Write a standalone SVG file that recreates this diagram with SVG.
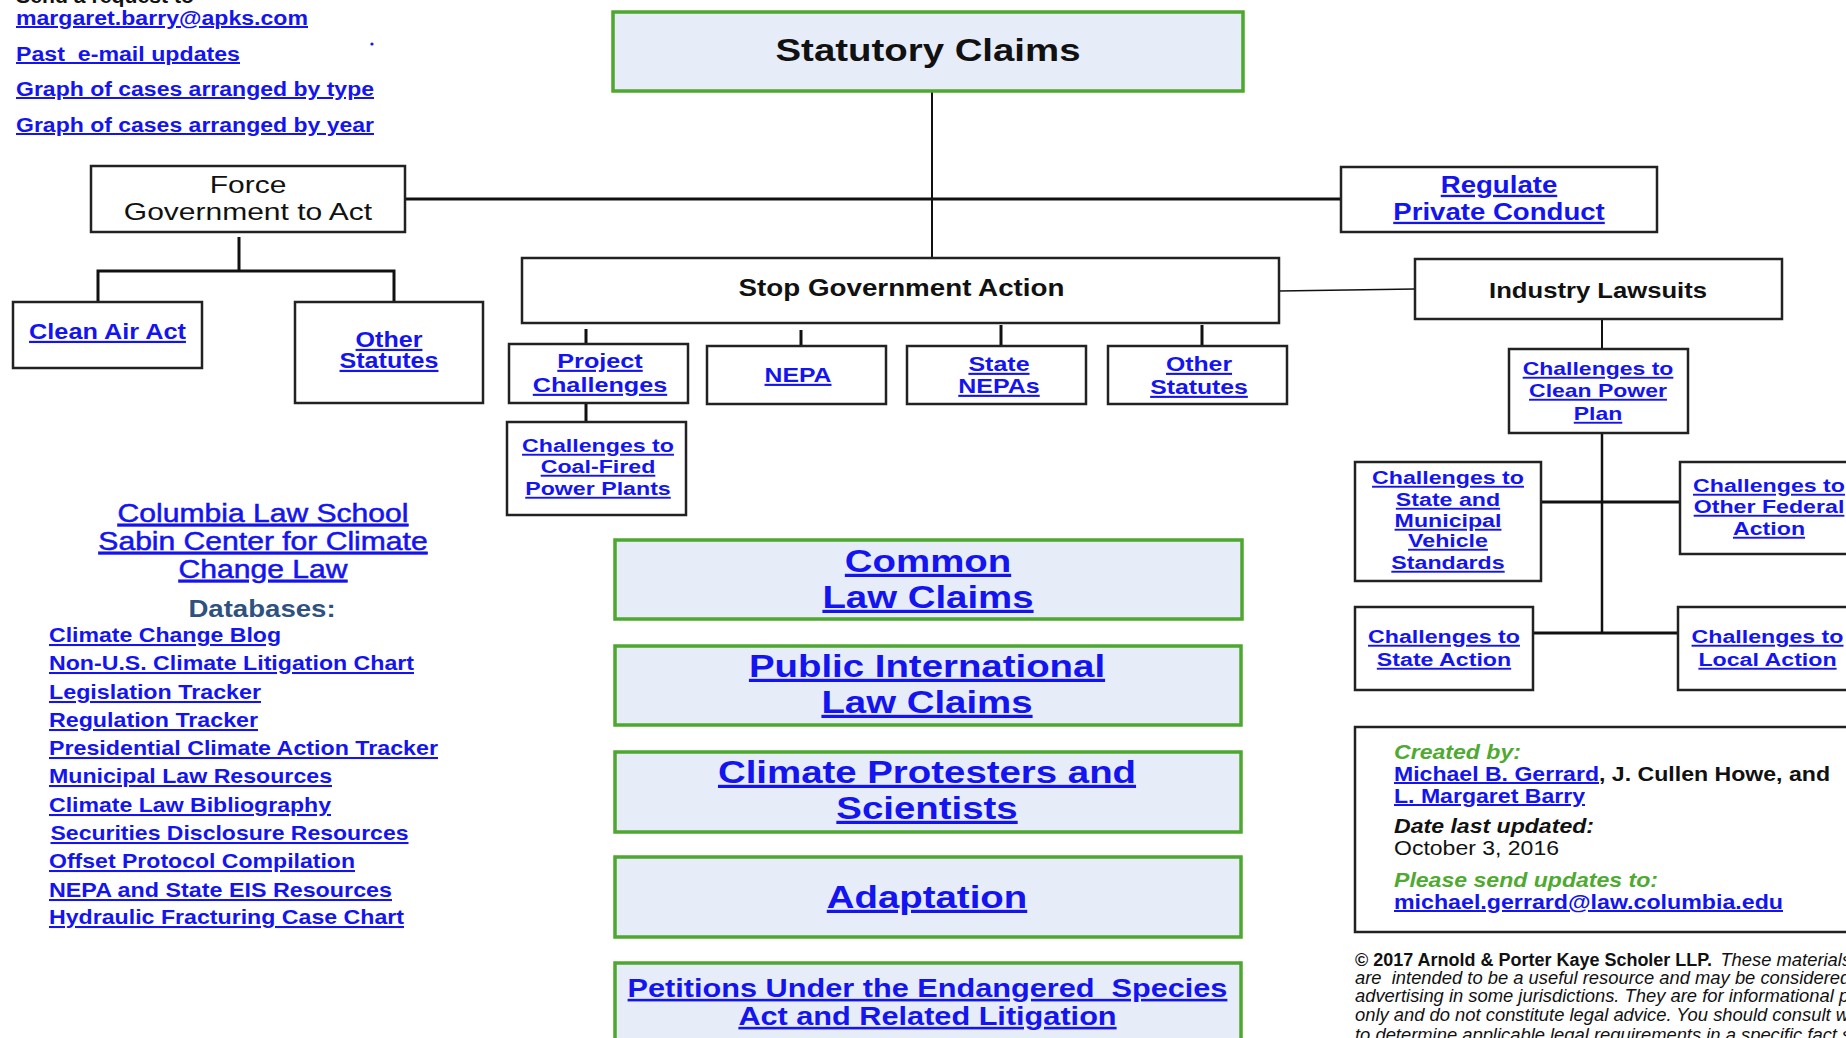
<svg xmlns="http://www.w3.org/2000/svg" width="1846" height="1038" viewBox="0 0 1846 1038">
<style>
text{font-family:"Liberation Sans",Arial,sans-serif}
.box{fill:#fff;stroke:#222;stroke-width:2.5}
.gbox{fill:#e6edf9;stroke:#4ea72e;stroke-width:3.5}
.lnk{fill:#1414f0;font-weight:bold;text-decoration:underline}
.lnkr{fill:#1414f0;stroke:#1414f0;stroke-width:0.5;text-decoration:underline}
.blk{fill:#111}
.bb{fill:#111;font-weight:bold}
.c{text-anchor:middle}
.grn{fill:#50aa32;font-weight:bold;font-style:italic}
.cp{fill:#111;font-size:17.5px;font-style:italic}
.conn path{fill:none;stroke:#111}
</style>
<rect width="1846" height="1038" fill="#fff"/>

<g id="connectors" class="conn">
<path d="M932 91V258" stroke-width="2"/>
<path d="M405 199H1341" stroke-width="3"/>
<path d="M239 237V271M98 302V271H394V302" stroke-width="3"/>
<path d="M586 329V344M801 330V346M1001 325V346M1202 325V346M586 403V422" stroke-width="3"/>
<path d="M1279 291L1415 289" stroke-width="1.5"/>
<path d="M1602 319V349" stroke-width="2"/>
<path d="M1602 433V633" stroke-width="2.5"/>
<path d="M1541 502H1680M1533 633H1678" stroke-width="3"/>
</g>

<g id="top-links">
<text class="bb" x="16" y="3" font-size="20" textLength="178" lengthAdjust="spacingAndGlyphs">Send a request to</text>
<text class="lnk" x="16" y="25" font-size="20" textLength="292" lengthAdjust="spacingAndGlyphs">margaret.barry@apks.com</text>
<text class="lnk" x="16" y="61" font-size="20" textLength="224" lengthAdjust="spacingAndGlyphs">Past&#160; e-mail updates</text>
<text class="lnk" x="16" y="96" font-size="20" textLength="358" lengthAdjust="spacingAndGlyphs">Graph of cases arranged by type</text>
<text class="lnk" x="16" y="132" font-size="20" textLength="358" lengthAdjust="spacingAndGlyphs">Graph of cases arranged by year</text>
<circle cx="372" cy="44" r="1.6" fill="#1414f0"/>
</g>

<g id="statutory-claims">
<rect class="gbox" x="613" y="12" width="630" height="79"/>
<g transform="translate(928 0) scale(1.2 1)"><text class="bb c" x="0" y="61" font-size="32">Statutory Claims</text></g>
</g>

<g id="force-government">
<rect class="box" x="91" y="166" width="314" height="66"/>
<g transform="translate(248 0) scale(1.25 1)" class="blk" font-size="24">
<text class="c" x="0" y="193">Force</text>
<text class="c" x="0" y="220">Government to Act</text>
</g>
</g>

<g id="clean-air-act">
<rect class="box" x="13" y="302" width="189" height="66"/>
<g transform="translate(107.5 0) scale(1.15 1)"><text class="lnk c" x="0" y="339" font-size="22">Clean Air Act</text></g>
</g>

<g id="other-statutes-left">
<rect class="box" x="295" y="302" width="188" height="101"/>
<g transform="translate(389 0) scale(1.14 1)" font-size="22">
<text class="lnk c" x="0" y="347">Other</text>
<text class="lnk c" x="0" y="368">Statutes</text>
</g>
</g>

<g id="stop-government">
<rect class="box" x="522" y="258" width="757" height="65"/>
<g transform="translate(901.5 0) scale(1.157 1)"><text class="bb c" x="0" y="296" font-size="24">Stop Government Action</text></g>
</g>

<g id="project-challenges">
<rect class="box" x="509" y="344" width="179" height="59"/>
<g transform="translate(600 0) scale(1.2 1)" font-size="21">
<text class="lnk c" x="0" y="368">Project</text>
<text class="lnk c" x="0" y="392">Challenges</text>
</g>
</g>

<g id="coal-fired">
<rect class="box" x="507" y="422" width="179" height="93"/>
<g transform="translate(598 0) scale(1.22 1)" font-size="19">
<text class="lnk c" x="0" y="452">Challenges to</text>
<text class="lnk c" x="0" y="473">Coal-Fired</text>
<text class="lnk c" x="0" y="495">Power Plants</text>
</g>
</g>

<g id="nepa">
<rect class="box" x="707" y="346" width="179" height="58"/>
<g transform="translate(798 0) scale(1.18 1)"><text class="lnk c" x="0" y="382" font-size="21">NEPA</text></g>
</g>

<g id="state-nepas">
<rect class="box" x="907" y="346" width="179" height="58"/>
<g transform="translate(999 0) scale(1.19 1)" font-size="21">
<text class="lnk c" x="0" y="371">State</text>
<text class="lnk c" x="0" y="393">NEPAs</text>
</g>
</g>

<g id="other-statutes-mid">
<rect class="box" x="1108" y="346" width="179" height="58"/>
<g transform="translate(1199 0) scale(1.18 1)" font-size="21">
<text class="lnk c" x="0" y="371">Other</text>
<text class="lnk c" x="0" y="394">Statutes</text>
</g>
</g>

<g id="regulate-private">
<rect class="box" x="1341" y="167" width="316" height="65"/>
<g transform="translate(1499 0) scale(1.2 1)" font-size="23">
<text class="lnk c" x="0" y="193">Regulate</text>
<text class="lnk c" x="0" y="220">Private Conduct</text>
</g>
</g>

<g id="industry-lawsuits">
<rect class="box" x="1415" y="259" width="367" height="60"/>
<g transform="translate(1598 0) scale(1.166 1)"><text class="bb c" x="0" y="298" font-size="22">Industry Lawsuits</text></g>
</g>

<g id="clean-power-plan">
<rect class="box" x="1509" y="349" width="179" height="84"/>
<g transform="translate(1598 0) scale(1.21 1)" font-size="19">
<text class="lnk c" x="0" y="375">Challenges to</text>
<text class="lnk c" x="0" y="397">Clean Power</text>
<text class="lnk c" x="0" y="420">Plan</text>
</g>
</g>

<g id="state-municipal">
<rect class="box" x="1355" y="462" width="186" height="119"/>
<g transform="translate(1448 0) scale(1.22 1)" font-size="19">
<text class="lnk c" x="0" y="484">Challenges to</text>
<text class="lnk c" x="0" y="506">State and</text>
<text class="lnk c" x="0" y="527">Municipal</text>
<text class="lnk c" x="0" y="547">Vehicle</text>
<text class="lnk c" x="0" y="569">Standards</text>
</g>
</g>

<g id="other-federal">
<rect class="box" x="1680" y="462" width="190" height="92"/>
<g transform="translate(1769 0) scale(1.22 1)" font-size="19">
<text class="lnk c" x="0" y="492">Challenges to</text>
<text class="lnk c" x="0" y="513">Other Federal</text>
<text class="lnk c" x="0" y="535">Action</text>
</g>
</g>

<g id="state-action">
<rect class="box" x="1355" y="607" width="178" height="83"/>
<g transform="translate(1444 0) scale(1.22 1)" font-size="19">
<text class="lnk c" x="0" y="643">Challenges to</text>
<text class="lnk c" x="0" y="666">State Action</text>
</g>
</g>

<g id="local-action">
<rect class="box" x="1678" y="607" width="190" height="83"/>
<g transform="translate(1767.5 0) scale(1.22 1)" font-size="19">
<text class="lnk c" x="0" y="643">Challenges to</text>
<text class="lnk c" x="0" y="666">Local Action</text>
</g>
</g>

<g id="common-law">
<rect class="gbox" x="615" y="540" width="627" height="79"/>
<g transform="translate(928 0) scale(1.2 1)" font-size="32">
<text class="lnk c" x="0" y="572">Common</text>
<text class="lnk c" x="0" y="608">Law Claims</text>
</g>
</g>

<g id="public-international">
<rect class="gbox" x="615" y="646" width="626" height="79"/>
<g transform="translate(927 0) scale(1.2 1)" font-size="32">
<text class="lnk c" x="0" y="677">Public International</text>
<text class="lnk c" x="0" y="713">Law Claims</text>
</g>
</g>

<g id="climate-protesters">
<rect class="gbox" x="615" y="752" width="626" height="80"/>
<g transform="translate(927 0) scale(1.2 1)" font-size="32">
<text class="lnk c" x="0" y="783">Climate Protesters and</text>
<text class="lnk c" x="0" y="819">Scientists</text>
</g>
</g>

<g id="adaptation">
<rect class="gbox" x="615" y="857" width="626" height="80"/>
<g transform="translate(927 0) scale(1.2 1)"><text class="lnk c" x="0" y="908" font-size="32">Adaptation</text></g>
</g>

<g id="petitions">
<rect class="gbox" x="615" y="963" width="626" height="100"/>
<g transform="translate(927.5 0) scale(1.18 1)" font-size="26">
<text class="lnk c" x="0" y="997">Petitions Under the Endangered&#160; Species</text>
<text class="lnk c" x="0" y="1025">Act and Related Litigation</text>
</g>
</g>

<g id="columbia">
<g transform="translate(263 0) scale(1.18 1)" font-size="25.5">
<text class="lnkr c" x="0" y="522">Columbia Law School</text>
<text class="lnkr c" x="0" y="550">Sabin Center for Climate</text>
<text class="lnkr c" x="0" y="578">Change Law</text>
</g>
<g transform="translate(262 0) scale(1.2 1)"><text class="c" x="0" y="617" font-size="23" font-weight="bold" fill="#2f5180">Databases:</text></g>
<g font-size="20.5">
<text class="lnk" x="49" y="642" textLength="232" lengthAdjust="spacingAndGlyphs">Climate Change Blog</text>
<text class="lnk" x="49" y="670" textLength="365" lengthAdjust="spacingAndGlyphs">Non-U.S. Climate Litigation Chart</text>
<text class="lnk" x="49" y="699" textLength="212" lengthAdjust="spacingAndGlyphs">Legislation Tracker</text>
<text class="lnk" x="49" y="727" textLength="209" lengthAdjust="spacingAndGlyphs">Regulation Tracker</text>
<text class="lnk" x="49" y="755" textLength="389" lengthAdjust="spacingAndGlyphs">Presidential Climate Action Tracker</text>
<text class="lnk" x="49" y="783" textLength="283" lengthAdjust="spacingAndGlyphs">Municipal Law Resources</text>
<text class="lnk" x="49" y="812" textLength="282" lengthAdjust="spacingAndGlyphs">Climate Law Bibliography</text>
<text class="lnk" x="50.5" y="840" textLength="358" lengthAdjust="spacingAndGlyphs">Securities Disclosure Resources</text>
<text class="lnk" x="49" y="868" textLength="306" lengthAdjust="spacingAndGlyphs">Offset Protocol Compilation</text>
<text class="lnk" x="49" y="897" textLength="343" lengthAdjust="spacingAndGlyphs">NEPA and State EIS Resources</text>
<text class="lnk" x="49" y="924" textLength="355" lengthAdjust="spacingAndGlyphs">Hydraulic Fracturing Case Chart</text>
</g>
</g>

<g id="created-by">
<rect class="box" x="1355" y="727" width="520" height="205"/>
<g font-size="20">
<text class="grn" x="1394" y="759" textLength="127" lengthAdjust="spacingAndGlyphs">Created by:</text>
<text class="lnk" x="1394" y="781" textLength="205" lengthAdjust="spacingAndGlyphs">Michael B. Gerrard</text>
<text class="bb" x="1599" y="781" textLength="231" lengthAdjust="spacingAndGlyphs">, J. Cullen Howe, and</text>
<text class="lnk" x="1394" y="803" textLength="191" lengthAdjust="spacingAndGlyphs">L. Margaret Barry</text>
<text class="bb" x="1394" y="833" font-style="italic" textLength="200" lengthAdjust="spacingAndGlyphs">Date last updated:</text>
<text class="blk" x="1394" y="855" textLength="165" lengthAdjust="spacingAndGlyphs">October 3, 2016</text>
<text class="grn" x="1394" y="887" textLength="264" lengthAdjust="spacingAndGlyphs">Please send updates to:</text>
<text class="lnk" x="1394" y="909" textLength="389" lengthAdjust="spacingAndGlyphs">michael.gerrard@law.columbia.edu</text>
</g>
</g>

<g id="copyright">
<text x="1355" y="966" font-size="17.5" font-weight="bold" fill="#111" textLength="357" lengthAdjust="spacingAndGlyphs">© 2017 Arnold &amp; Porter Kaye Scholer LLP.</text>
<g transform="translate(1355 0) scale(1.05 1)">
<text class="cp" x="348" y="966">These materials</text>
<text class="cp" x="0" y="984">are&#160; intended to be a useful resource and may be considered</text>
<text class="cp" x="0" y="1002">advertising in some jurisdictions. They are for informational purposes</text>
<text class="cp" x="0" y="1021">only and do not constitute legal advice. You should consult with</text>
<text class="cp" x="0" y="1041">to determine applicable legal requirements in a specific fact situation</text>
</g>
</g>
</svg>
